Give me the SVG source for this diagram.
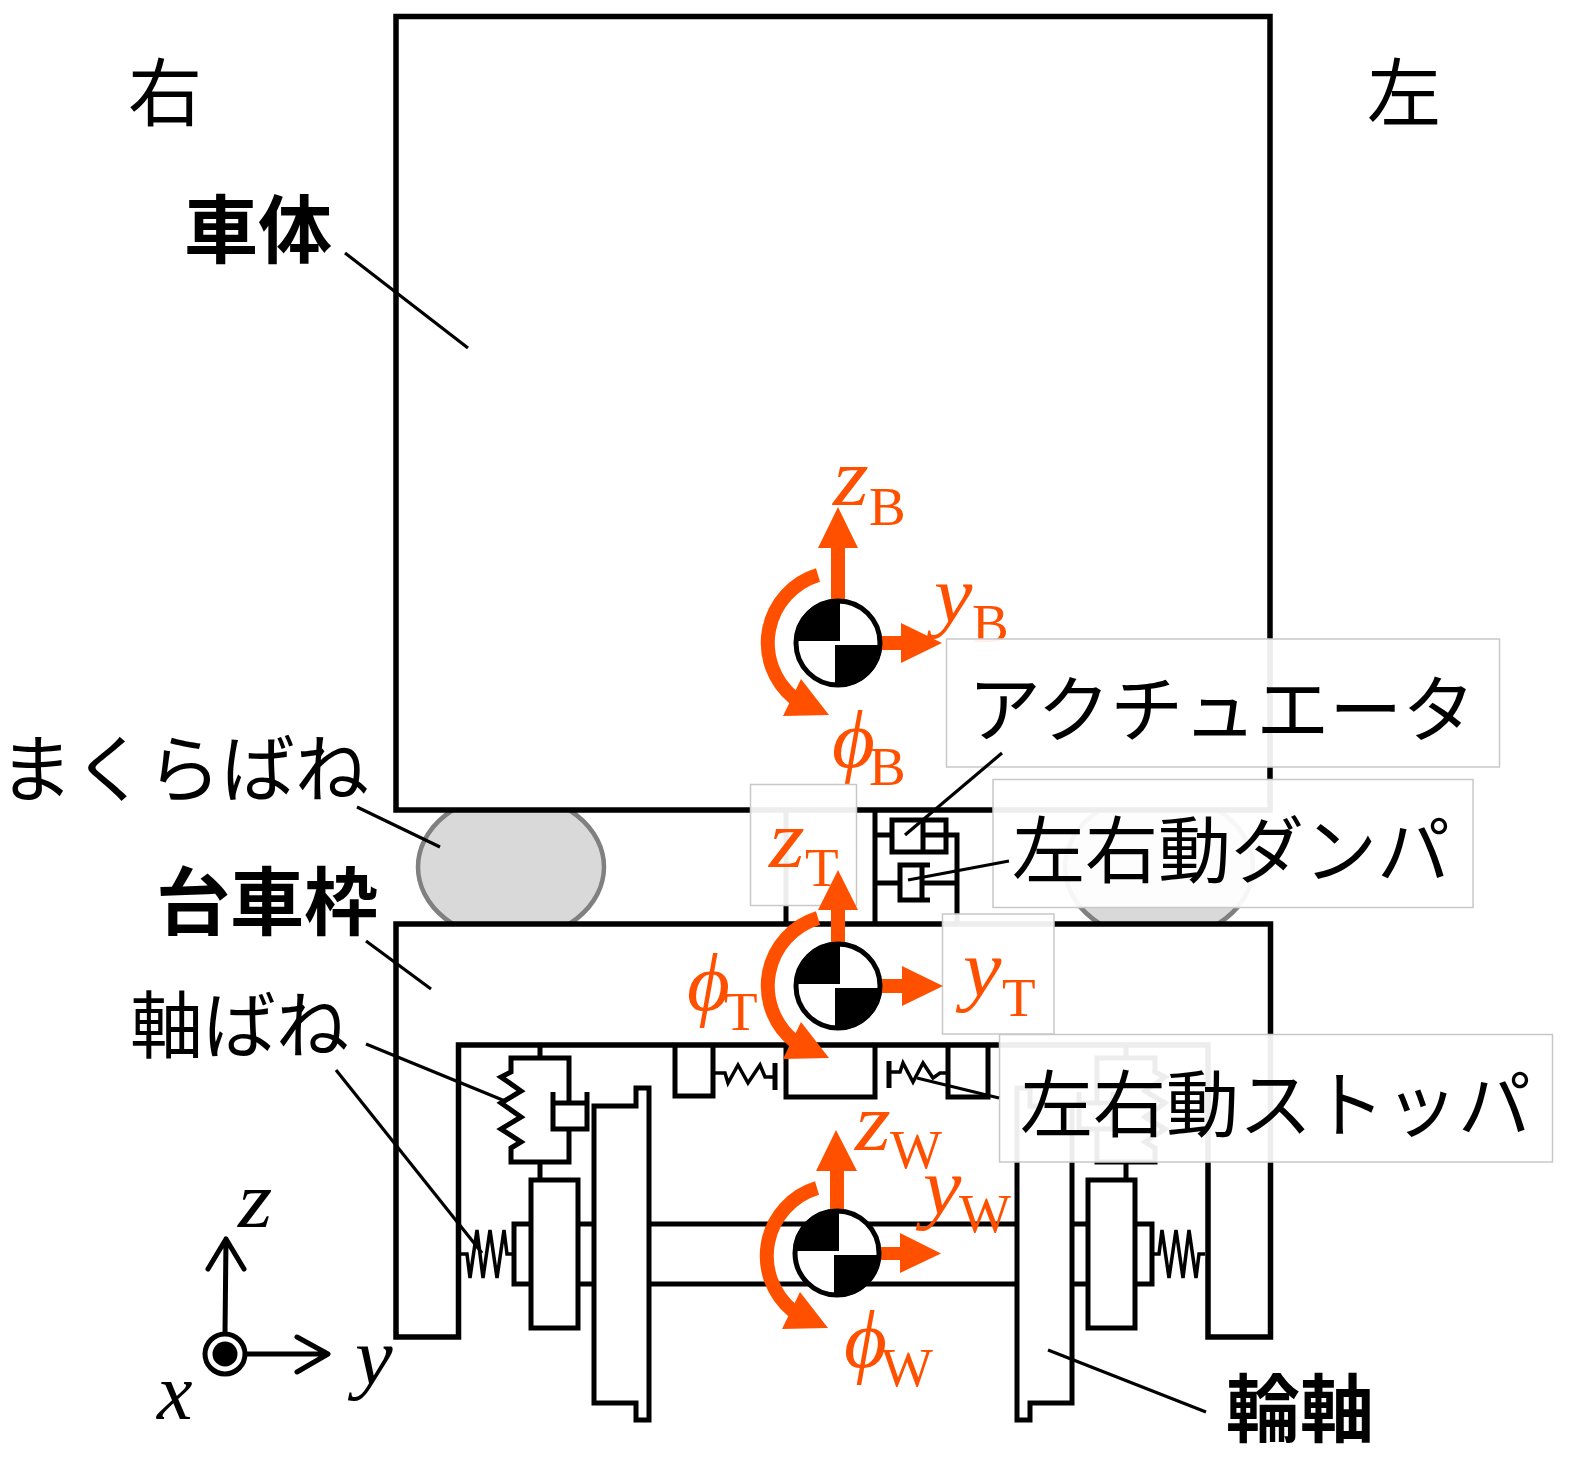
<svg xmlns="http://www.w3.org/2000/svg" xmlns:xlink="http://www.w3.org/1999/xlink" width="1570" height="1462" viewBox="0 0 1570 1462">
<style>
.s{fill:none;stroke:#000;stroke-width:5;stroke-linejoin:miter}
.w{fill:#fff;stroke:#000;stroke-width:5}
.f{fill:#fff;stroke:#000;stroke-width:5.5}
.t{fill:none;stroke:#000;stroke-width:3.5}
.l{fill:none;stroke:#000;stroke-width:3.2}
.box{fill:#fff;fill-opacity:.93;stroke:#c8c8c8;stroke-width:1.5}
.es{fill:#d9d9d9;stroke:#808080;stroke-width:4.5}
.jp{font-family:"Noto Sans CJK JP","Noto Sans CJK SC",sans-serif;font-size:74px;fill:#000}
.n{font-size:73px}
.b{font-weight:700}
.o{font-family:"Liberation Serif",serif;fill:#ff5000}
.i{font-style:italic;font-size:82px}
.y{font-style:italic;font-size:80px}
.p{font-style:italic;font-size:83px}
.sub{font-size:55px}
.k{font-family:"Liberation Serif",serif;font-style:italic;font-size:80px;fill:#000}
.arc{fill:none;stroke:#ff5000;stroke-width:14}
.fo{fill:#ff5000}
.ax{fill:none;stroke:#000;stroke-width:5;stroke-linecap:round;stroke-linejoin:round}
</style>
<defs>
<g id="cg">
<circle r="42" fill="#fff" stroke="#000" stroke-width="5"/>
<path d="M2,-2V-44A44,44 0 0 0 -44,-2Z M-3,2V44A44,44 0 0 0 44,2Z" fill="#000"/>
</g>
<g id="dof">
<path class="arc" d="M-20,-68A71,71 0 0 0 -44,55"/>
<path class="fo" d="M-37,36L-9,72L-55,73Z"/>
</g>
<g id="half">
<path class="w" d="M594,1106H636V1088H649V1420H636V1403H594Z"/>
<path class="w" d="M531,1180H578V1328H531Z"/>
<path class="s" d="M531,1224H514V1284H531M578,1224H594M578,1284H594"/>
<path class="t" d="M461,1254H467L470,1278L477,1230L483,1278L490,1230L497,1278L504,1230L507,1254H512"/>
<path class="s" d="M540,1045V1058M540,1162V1180"/>
<path class="s" d="M569,1101V1058H511V1072L501,1077L521,1091L501,1103L521,1117L501,1129L521,1142L511,1148V1162H569V1129"/>
<path class="s" d="M553,1092V1129H587V1092M553,1103H587"/>
</g>
</defs>

<g id="air-spring-right"><ellipse class="es" cx="1159" cy="867" rx="94" ry="73"/></g>
<g id="air-spring-left"><ellipse class="es" cx="511" cy="867" rx="93" ry="73"/></g>
<g id="car-body"><rect class="f" x="396" y="16.5" width="874" height="793.5"/></g>
<g id="bogie-frame">
<path class="f" d="M396,924H1270.5V1337H1208V1045H458.5V1337H396Z"/>
<path class="s" d="M786,810V924M875,810V924"/>
<path class="s" d="M875,835H892M923,835H957V924M875,883H900M922,883H957"/>
<path class="s" d="M892,820H946V852H892ZM923,820V852"/>
<path class="s" d="M930,865H900V900H930M922,865V900"/>
</g>
<g id="stoppers">
<path class="s" d="M675,1045V1096H713V1045"/>
<path class="s" d="M786,1045V1097H875V1045"/>
<path class="s" d="M948,1045V1097H988V1045"/>
<path class="t" d="M713,1073H725L728,1083L738,1065L748,1083L760,1065L765,1077H775"/>
<path class="s" d="M775,1063V1090M889,1061V1088"/>
<path class="t" d="M889,1072H900L903,1063L913,1082L923,1063L933,1078L940,1073H948"/>
</g>
<g id="axle"><path class="s" d="M649,1224H1017M649,1284H1017"/></g>
<g id="wheelset-left"><use xlink:href="#half" href="#half"/></g>
<g id="wheelset-right"><use xlink:href="#half" href="#half" transform="translate(1666,0) scale(-1,1)"/></g>

<g id="label-zB"><text class="o i" transform="translate(833,505) scale(1.12,1)">z</text><text class="o sub" x="869" y="525">B</text></g>
<g id="label-yB"><text class="o y" transform="translate(934,622) scale(1.08,1)">y</text><text class="o sub" x="972" y="642">B</text></g>
<g id="label-phiB"><text class="o p" x="832" y="767">ϕ</text><text class="o sub" x="869" y="785">B</text></g>

<g id="label-boxes">
<rect class="box" x="946.5" y="639" width="553" height="128"/>
<rect class="box" x="750.5" y="784.5" width="106" height="121"/>
<rect class="box" x="993" y="779.5" width="480" height="128"/>
<rect class="box" x="942.5" y="914" width="111.5" height="120"/>
<rect class="box" x="999.5" y="1034.5" width="553" height="127.5"/>
</g>

<g id="connectors">
<path class="l" d="M345,253L468,348"/>
<path class="l" d="M357,807L440,847"/>
<path class="l" d="M366,941L431,989"/>
<path class="l" d="M366,1044L505,1101"/>
<path class="l" d="M336,1070L482,1253"/>
<path class="l" d="M1048,1350L1206,1412"/>
<path class="l" d="M1002,753L905,835"/>
<path class="l" d="M1009,861L908,880"/>
<path class="l" d="M917,1078L999,1098"/>
</g>

<g id="cg-body">
<use href="#dof" xlink:href="#dof" x="838" y="643"/>
<path class="fo" d="M831,600V548H818L838,507L858,548H845V600Z"/>
<path class="fo" d="M880,636H901V623L942,643L901,663V650H880Z"/>
<use href="#cg" xlink:href="#cg" x="838" y="643"/>
</g>
<g id="cg-bogie">
<use href="#dof" xlink:href="#dof" x="838" y="986"/>
<path class="fo" d="M831,943V910H818L838,870L858,910H845V943Z"/>
<path class="fo" d="M880,979H902V966L943,986L902,1006V993H880Z"/>
<use href="#cg" xlink:href="#cg" x="838" y="986"/>
</g>
<g id="cg-wheelset">
<use href="#dof" xlink:href="#dof" x="837" y="1256"/>
<path class="fo" d="M830,1210V1171H816L836,1130L857,1171H844V1210Z"/>
<path class="fo" d="M879,1247H900V1233L941,1253.500L900,1273V1260H879Z"/>
<use href="#cg" xlink:href="#cg" x="837" y="1253"/>
</g>

<g id="label-zT"><text class="o i" transform="translate(769,867) scale(1.12,1)">z</text><text class="o sub" x="805" y="886">T</text></g>
<g id="label-phiT"><text class="o p" x="687" y="1010">ϕ</text><text class="o sub" x="724" y="1030">T</text></g>
<g id="label-yT"><text class="o y" transform="translate(963,996) scale(1.08,1)">y</text><text class="o sub" x="1002" y="1016">T</text></g>
<g id="label-zW"><text class="o i" transform="translate(855,1150) scale(1.12,1)">z</text><text class="o sub" x="890" y="1168">W</text></g>
<g id="label-yW"><text class="o y" transform="translate(923,1214) scale(1.08,1)">y</text><text class="o sub" x="959" y="1232">W</text></g>
<g id="label-phiW"><text class="o p" x="844" y="1367">ϕ</text><text class="o sub" x="881" y="1386">W</text></g>

<g id="labels-jp">
<text class="jp" x="128" y="120">右</text>
<text class="jp" x="1367" y="120">左</text>
<text class="jp b" x="184" y="257">車体</text>
<text class="jp" x="-1" y="796">まくらばね</text>
<text class="jp b" x="156" y="929">台車枠</text>
<text class="jp n" x="130" y="1052">軸ばね</text>
<text class="jp b" x="1226" y="1436">輪軸</text>
<text class="jp n" x="968" y="736">アクチュエータ</text>
<text class="jp n" x="1012" y="877">左右動ダンパ</text>
<text class="jp n" x="1020" y="1131">左右動ストッパ</text>
</g>

<g id="axes">
<path class="ax" d="M225,1333L226,1239M208,1269L226,1239L244,1269M247,1354H327M297,1337L328,1354L297,1372"/>
<circle cx="225" cy="1354" r="20" fill="#fff" stroke="#000" stroke-width="5"/>
<circle cx="225" cy="1354" r="12.500" fill="#000"/>
<text class="k" transform="translate(238,1227) scale(1.1,1)">z</text>
<text class="k" transform="translate(355,1384) scale(1.06,1)">y</text>
<text class="k" x="157" y="1419">x</text>
</g>
</svg>
